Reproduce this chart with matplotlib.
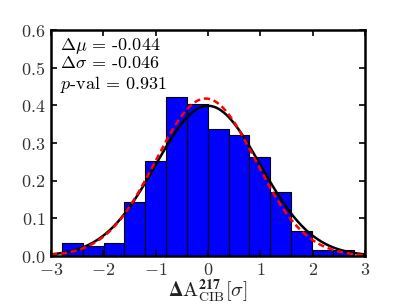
import numpy as np
import matplotlib
matplotlib.use("Agg")
import matplotlib.pyplot as plt

plt.rcParams['mathtext.fontset'] = 'cm'
plt.rcParams['mathtext.rm'] = 'cmr10'
plt.rcParams['mathtext.it'] = 'cmmi10'
plt.rcParams['mathtext.bf'] = 'STIXGeneral:bold'
plt.rcParams['mathtext.fallback'] = 'cm'
plt.rcParams['font.family'] = 'serif'
plt.rcParams['font.serif'] = ['cmr10', 'DejaVu Serif']
plt.rcParams['axes.unicode_minus'] = True
plt.rcParams['axes.formatter.use_mathtext'] = True

bin_edges = np.linspace(-2.79, 2.78, 15)
bar_heights = [0.034, 0.027, 0.034, 0.143, 0.253, 0.423, 0.405, 0.338,
               0.321, 0.262, 0.169, 0.067, 0.016, 0.016]
ref_mu, ref_sigma = 0.0, 1.0
fit_mu, fit_sigma = -0.044, 0.954
text_lines = [r'$\Delta\mu$ = -0.044', r'$\Delta\sigma$ = -0.046', r'$p$-val = 0.931']
xticks = [-3, -2, -1, 0, 1, 2, 3]
yticks = [0.0, 0.1, 0.2, 0.3, 0.4, 0.5, 0.6]

def gauss(x, m, s):
    return np.exp(-0.5 * ((x - m) / s) ** 2) / (s * np.sqrt(2 * np.pi))

fig = plt.figure(figsize=(4.07, 3.07), dpi=100)
ax = fig.add_axes([0.125, 0.166, 0.772, 0.736])
widths = np.diff(bin_edges)
ax.bar(bin_edges[:-1], bar_heights, width=widths, align='edge',
       color='#0000ff', edgecolor='black', linewidth=0.8)
xs = np.linspace(-3, 3, 400)
ax.plot(xs, gauss(xs, ref_mu, ref_sigma), color='black', lw=1.8)
ax.plot(xs, gauss(xs, fit_mu, fit_sigma), color='red', lw=1.8, ls=(0, (2.5, 1.5)))
ax.set_xlim(-3, 3)
ax.set_ylim(0, 0.6)
ax.set_xticks(xticks)
ax.set_yticks(yticks)
ax.set_xticklabels([r'$%s$' % ('-' + str(abs(t)) if t < 0 else str(t)) for t in xticks], fontsize=13)
ax.set_yticklabels([r'$\mathrm{%.1f}$' % t for t in yticks], fontsize=13)
ax.tick_params(direction='in', top=True, right=True, length=4, width=1.2, pad=4, colors='black')
for lab in ax.get_xticklabels() + ax.get_yticklabels():
    lab.set_color('#333333')
for sp in ax.spines.values():
    sp.set_linewidth(1.8)
for i, t in enumerate(text_lines):
    ax.text(0.03, 0.975 - i * 0.085, t, transform=ax.transAxes, va='top', ha='left',
            fontsize=13)

ax.text(0.5, -0.158, r'$\mathbf{\Delta}\mathrm{A}^{\mathbf{217}}_{\mathrm{CIB}}[\sigma]$',
        transform=ax.transAxes, ha='center', va='center', fontsize=14.5,
        math_fontfamily='custom', color='#222222')
fig.savefig('out.png', dpi=100)
